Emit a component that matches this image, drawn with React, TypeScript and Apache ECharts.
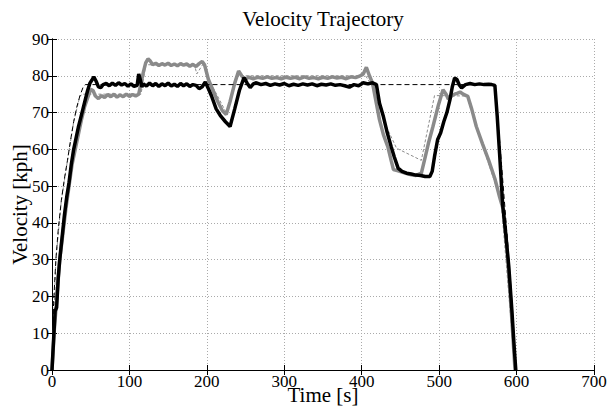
import React, { useEffect, useRef } from "react";
import * as echarts from "echarts";

// Time axis ticks / velocity ticks
const xTicks = [0, 100, 200, 300, 400, 500, 600, 700];
const yTicks = [0, 10, 20, 30, 40, 50, 60, 70, 80, 90];

// Reference (black dashed) target
const refBlackT = [0, 2, 5, 8, 12, 16, 20, 24, 28, 32, 36, 40, 43, 200, 400, 572, 576, 582, 588, 594, 598];
const refBlackV = [0, 18, 30, 38, 46, 52, 57, 62.5, 67.5, 71.5, 74.5, 76.8, 77.6, 77.6, 77.6, 77.6, 68, 52, 36, 18, 0];

// Reference (grey dashed) target
const refGreyT = [0, 5, 12, 20, 28, 36, 40, 115, 121, 184, 187, 196, 200, 225, 240, 405, 414, 430, 445, 477, 494, 502, 536, 548, 580, 598];
const refGreyV = [0, 30, 46, 57, 67.5, 74.5, 75, 75, 83, 83, 80.5, 83.5, 80, 70, 80, 80, 77, 67, 60.3, 57, 74.6, 74.6, 74.5, 66, 46, 0];

// Vehicle A (black, thick)
const blackT = [0, 2, 4, 6, 8, 10, 13, 16, 19, 22, 25, 28, 31, 34, 37, 40, 43, 46, 49, 52, 54, 57, 60, 63, 66, 70, 74, 78, 82, 86, 90, 94, 98, 102, 106, 110, 112, 114, 116, 118, 122, 126, 130, 134, 138, 142, 146, 150, 154, 158, 162, 166, 170, 174, 178, 182, 186, 190, 194, 198, 202, 206, 212, 218, 224, 230, 236, 242, 248, 252, 256, 260, 264, 270, 276, 282, 288, 294, 300, 306, 312, 318, 324, 330, 336, 342, 348, 354, 360, 366, 372, 378, 384, 390, 396, 402, 408, 414, 419, 423, 428, 433, 438, 442, 447, 452, 458, 464, 470, 476, 482, 488, 491, 494, 498, 502, 506, 510, 514, 517, 520, 523, 526, 529, 534, 540, 546, 552, 558, 564, 568, 572, 575, 578, 582, 586, 590, 594, 597, 599];
const blackV = [0, 8, 16, 17, 25, 30, 36, 42, 47, 51, 56, 60, 63, 66, 68.5, 71, 73.5, 76, 78, 79, 79.7, 78.5, 77, 76.8, 77.6, 77.9, 77.3, 78, 77.4, 78.1, 77.5, 77.9, 77.2, 77.8, 77.1, 77.4, 80.5, 79, 77, 77.8, 77.2, 78, 77.3, 77.9, 77.1, 77.8, 77.3, 78, 77.2, 77.7, 77.1, 77.9, 77.3, 77.8, 77.1, 77.6, 77.4, 76.5, 77, 78.3, 76.5, 74.5, 71, 69, 67.5, 66.2, 71, 76, 79.5, 78, 76.8, 77.8, 78.1, 77.6, 77.9, 77.4, 77.8, 77.5, 77.9, 77.3, 77.7, 77.4, 77.8, 77.5, 77.8, 77.3, 77.7, 77.5, 77.8, 77.4, 77.6, 77.3, 76.9, 77.6, 77.3, 78.1, 77.8, 78.1, 77.6, 72.5, 68.9, 64.5, 60.8, 58, 54.9, 54, 53.5, 53.3, 53, 52.9, 52.6, 52.6, 54, 58, 62.6, 64.5, 67.5, 70, 73.5, 77, 79.4, 79, 77.5, 76.7, 77.6, 77.9, 77.6, 77.8, 77.6, 77.7, 77.6, 77.4, 69, 59, 45, 37, 28, 16, 6, 0];

// Vehicle B (grey, thick)
const greyT = [0, 3, 6, 10, 14, 18, 22, 26, 30, 34, 38, 42, 46, 50, 53, 56, 60, 64, 68, 72, 76, 80, 84, 88, 92, 96, 100, 104, 108, 112, 115, 118, 121, 124, 127, 130, 134, 138, 142, 146, 150, 154, 158, 162, 166, 170, 174, 178, 182, 186, 190, 194, 197, 202, 208, 214, 220, 225, 230, 236, 241, 245, 249, 254, 260, 266, 272, 278, 284, 290, 296, 302, 308, 314, 320, 326, 332, 338, 344, 350, 356, 362, 368, 374, 380, 386, 392, 398, 402, 406, 410, 414, 418, 423, 428, 434, 438, 441, 446, 452, 458, 464, 470, 477, 481, 486, 492, 499, 505, 509, 512, 516, 520, 524, 527, 531, 537, 542, 548, 556, 564, 572, 578, 583, 588, 592, 595, 598];
const greyV = [0, 11, 19, 30, 37, 44, 50, 56, 60, 64, 68, 71.5, 74, 76.3, 76, 74.5, 73.8, 74.6, 74.1, 74.9, 74.3, 75, 74.2, 74.8, 74.3, 75, 74.4, 74.9, 74.5, 75, 78, 81, 83.5, 84.6, 84, 83, 83.4, 82.8, 83.3, 82.9, 83.4, 82.8, 83.2, 82.7, 83.3, 82.9, 83.2, 82.6, 83.1, 82.5, 83.3, 83.9, 83, 79, 76, 73, 70.5, 69.5, 73, 78, 81.3, 80, 79, 79.6, 79.2, 79.6, 79.3, 79.7, 79.3, 79.5, 79.2, 79.6, 79.3, 79.6, 79.2, 79.7, 79.3, 79.5, 79.2, 79.6, 79.3, 79.7, 79.4, 79.6, 79.2, 79.7, 79.5, 80, 80.5, 82.3, 80, 78, 73.5, 68, 64, 60.5, 57, 54.5, 54.2, 53.8, 53.4, 53.1, 52.9, 53.5, 57, 61.5, 66.2, 72, 76.2, 75, 73.6, 74.5, 75, 75.3, 75.6, 75, 74.4, 71, 66.2, 61.5, 57, 52, 47.1, 43.5, 32, 20, 10, 0];

const FONT = "'Liberation Serif', 'Times New Roman', serif";

function zip(t: number[], v: number[]) {
  return t.map((x, i) => [x, v[i]]);
}

const tickLabel = {
  fontFamily: FONT,
  fontSize: 17,
  color: "#000",
  margin: 3,
  formatter: (v: number) => `{a|${v}}`,
  rich: { a: { fontFamily: FONT, fontSize: 17, color: "#000" } },
};

export default function App() {
  const ref = useRef<HTMLDivElement>(null);
  useEffect(() => {
    document.body.style.margin = "0";
    if (!ref.current) return;
    const chart = echarts.init(ref.current, undefined, { renderer: "svg" });
    const axisLine = { show: true, lineStyle: { color: "#000", width: 1 } };
    const tick = { show: true, inside: true, length: 5, lineStyle: { color: "#000", width: 1 } };
    const grid = { show: true, lineStyle: { color: "#aaa", type: [1, 2], width: 1 } };
    chart.setOption({
      animation: false,
      backgroundColor: "#fff",
      textStyle: { fontFamily: FONT },
      title: {
        text: "Velocity Trajectory",
        left: 323,
        top: 8,
        textAlign: "center",
        padding: 0,
        textStyle: { fontFamily: FONT, fontSize: 21, fontWeight: "normal", color: "#000" },
      },
      grid: { left: 52, right: 13, top: 39, bottom: 36, containLabel: false, outerBoundsMode: "none" },
      xAxis: [
        {
          type: "value",
          min: xTicks[0],
          max: xTicks[xTicks.length - 1],
          interval: 100,
          name: "Time [s]",
          nameLocation: "middle",
          nameGap: 14,
          nameMoveOverlap: false,
          nameTextStyle: { fontFamily: FONT, fontSize: 21, color: "#000" },
          axisLine,
          axisTick: tick,
          axisLabel: tickLabel,
          splitLine: grid,
        },
        {
          type: "value",
          position: "top",
          min: xTicks[0],
          max: xTicks[xTicks.length - 1],
          interval: 100,
          axisLine,
          axisTick: tick,
          axisLabel: { show: false },
          splitLine: { show: false },
        },
      ],
      yAxis: [
        {
          type: "value",
          min: yTicks[0],
          max: yTicks[yTicks.length - 1],
          interval: 10,
          name: "Velocity [kph]",
          nameLocation: "middle",
          nameGap: 22,
          nameMoveOverlap: false,
          nameTextStyle: { fontFamily: FONT, fontSize: 21, color: "#000" },
          axisLine,
          axisTick: tick,
          axisLabel: tickLabel,
          splitLine: grid,
        },
        {
          type: "value",
          position: "right",
          min: yTicks[0],
          max: yTicks[yTicks.length - 1],
          interval: 10,
          axisLine,
          axisTick: tick,
          axisLabel: { show: false },
          splitLine: { show: false },
        },
      ],
      series: [
        {
          type: "line",
          data: zip(refGreyT, refGreyV),
          showSymbol: false,
          symbol: "none",
          lineStyle: { color: "#8c8c8c", width: 1, type: [3, 2] },
          z: 1,
        },
        {
          type: "line",
          data: zip(greyT, greyV),
          showSymbol: false,
          symbol: "none",
          lineStyle: { color: "#8a8a8a", width: 3.5 },
          z: 2,
        },
        {
          type: "line",
          data: zip(refBlackT, refBlackV),
          showSymbol: false,
          symbol: "none",
          lineStyle: { color: "#000", width: 1, type: [5, 3] },
          z: 3,
        },
        {
          type: "line",
          data: zip(blackT, blackV),
          showSymbol: false,
          symbol: "none",
          lineStyle: { color: "#000", width: 3.5 },
          z: 4,
        },
      ],
    });
    return () => chart.dispose();
  }, []);
  return <div ref={ref} style={{ width: 607, height: 406 }} />;
}
